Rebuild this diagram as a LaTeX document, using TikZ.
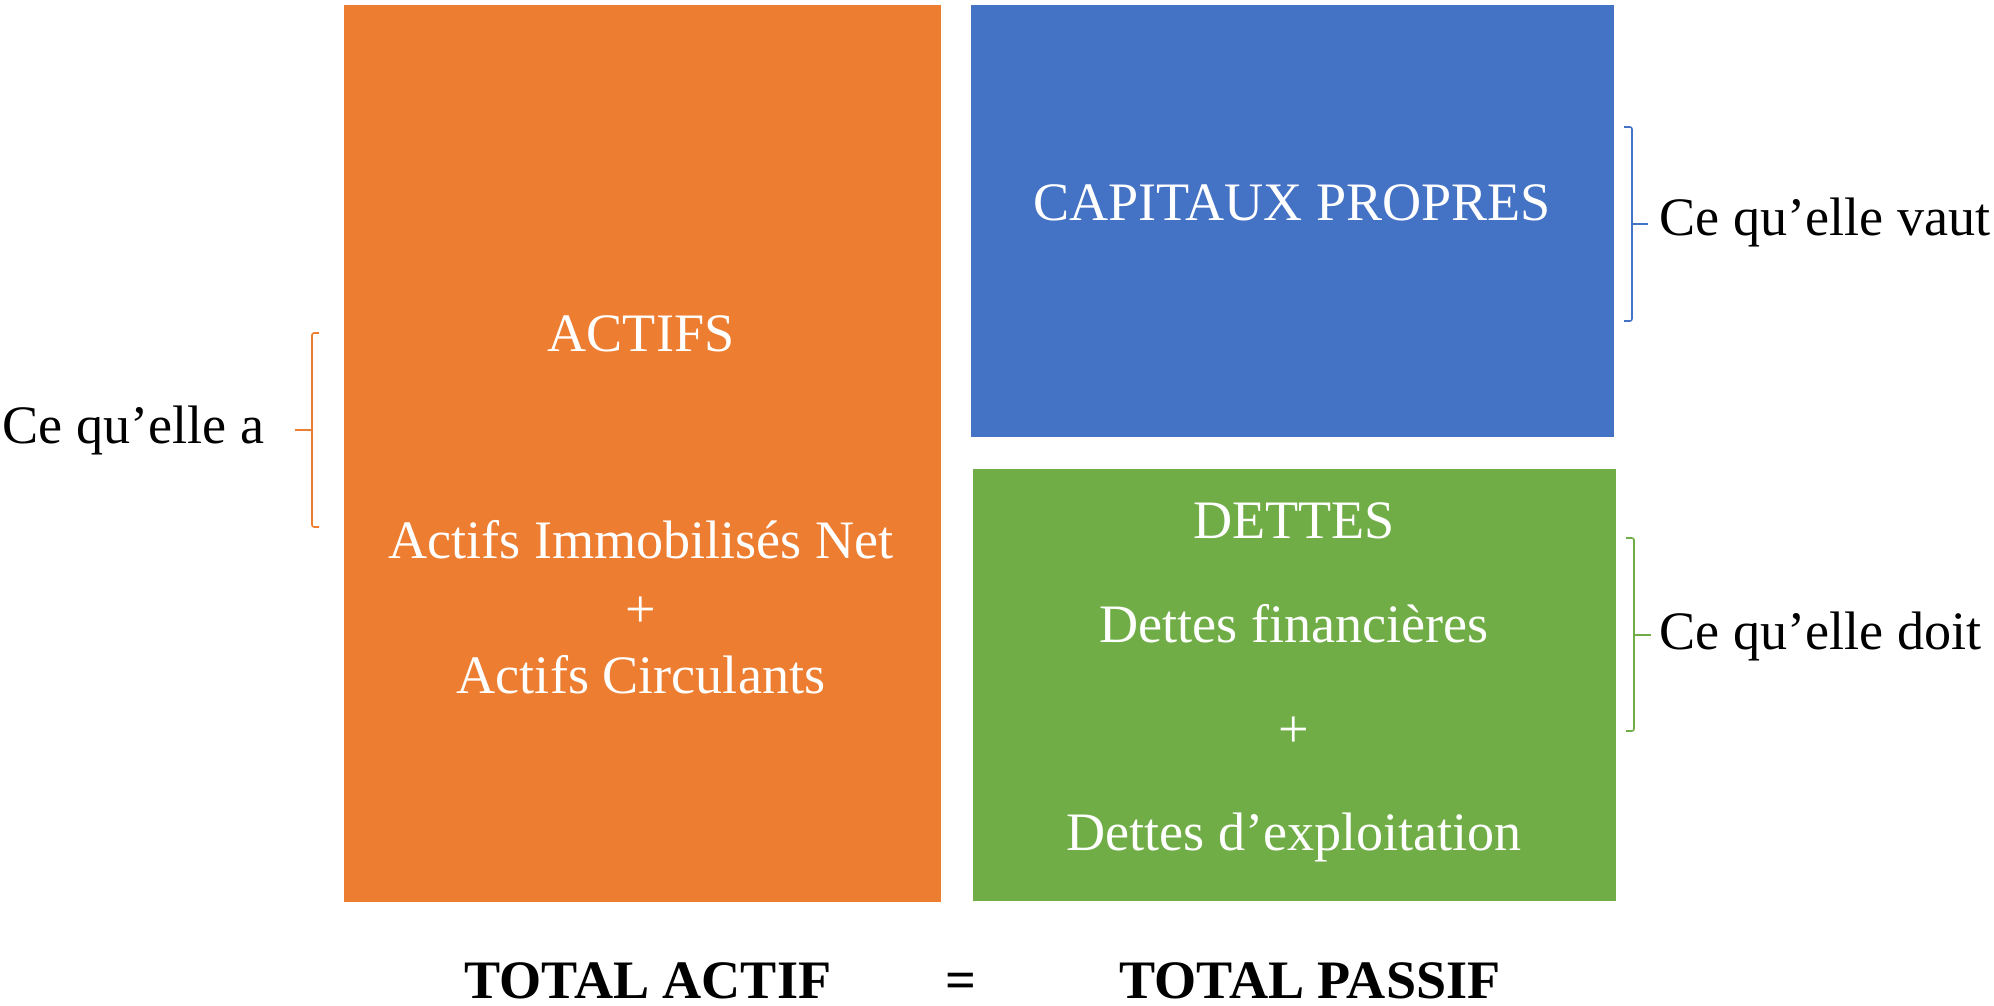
\documentclass[tikz,border=0pt]{standalone}
\usepackage{fontspec}
\setmainfont{Liberation Serif}
\definecolor{actifcol}{HTML}{ED7D31}
\definecolor{capitcol}{HTML}{4472C4}
\definecolor{dettecol}{HTML}{70AD47}
\tikzset{
  boxtext/.style={text=white, anchor=base, inner sep=0pt},
  sidetext/.style={anchor=base west, inner sep=0pt},
  totaltext/.style={anchor=base, inner sep=0pt, font=\fontsize{15.4}{18}\selectfont\bfseries},
  brace/.style={line width=0.45pt, rounded corners=0.6pt}
}
\begin{document}
\begin{tikzpicture}[x=0.01cm, y=-0.01cm, font=\fontsize{15.4}{18}\selectfont]
            \useasboundingbox (0,0) rectangle (1994,1005);
            \fill [actifcol] (344,5) rectangle (941,902);
            \fill [capitcol] (971,5) rectangle (1614,437);
            \fill [dettecol] (973,469) rectangle (1616,901);
            \node [boxtext] (actifs) at (641,351) {ACTIFS};
            \node [boxtext] (immo) at (641,558) {Actifs Immobilisés Net};
            \node [boxtext] (plusa) at (641,627) {+};
            \node [boxtext] (circ) at (641,693) {Actifs Circulants};
            \node [boxtext] (capit) at (1292,220) {CAPITAUX PROPRES};
            \node [boxtext] (dettes) at (1294,538) {DETTES};
            \node [boxtext] (fin) at (1294,642) {Dettes financières};
            \node [boxtext] (plusd) at (1294,747) {+};
            \node [boxtext] (expl) at (1294,850) {Dettes d’exploitation};
            \node [sidetext] (ala) at (2,443) {Ce qu’elle a};
            \node [sidetext] (vaut) at (1659,235) {Ce qu’elle vaut};
            \node [sidetext] (doit) at (1659,649) {Ce qu’elle doit};
            \node [totaltext] (tactif) at (648,998) {TOTAL ACTIF};
            \node [totaltext] (egal) at (961,998) {=};
            \node [totaltext] (tpassif) at (1310,998) {TOTAL PASSIF};
            \draw [brace, actifcol] (319,333) -- (312,333) -- (312,527) -- (319,527);
            \draw [brace, actifcol] (312,430) -- (295,430);
            \draw [brace, capitcol] (1624,127) -- (1632,127) -- (1632,321) -- (1624,321);
            \draw [brace, capitcol] (1632,224) -- (1648,224);
            \draw [brace, dettecol] (1626,538) -- (1634,538) -- (1634,731) -- (1626,731);
            \draw [brace, dettecol] (1634,635) -- (1651,635);
        \end{tikzpicture}
\end{document}
